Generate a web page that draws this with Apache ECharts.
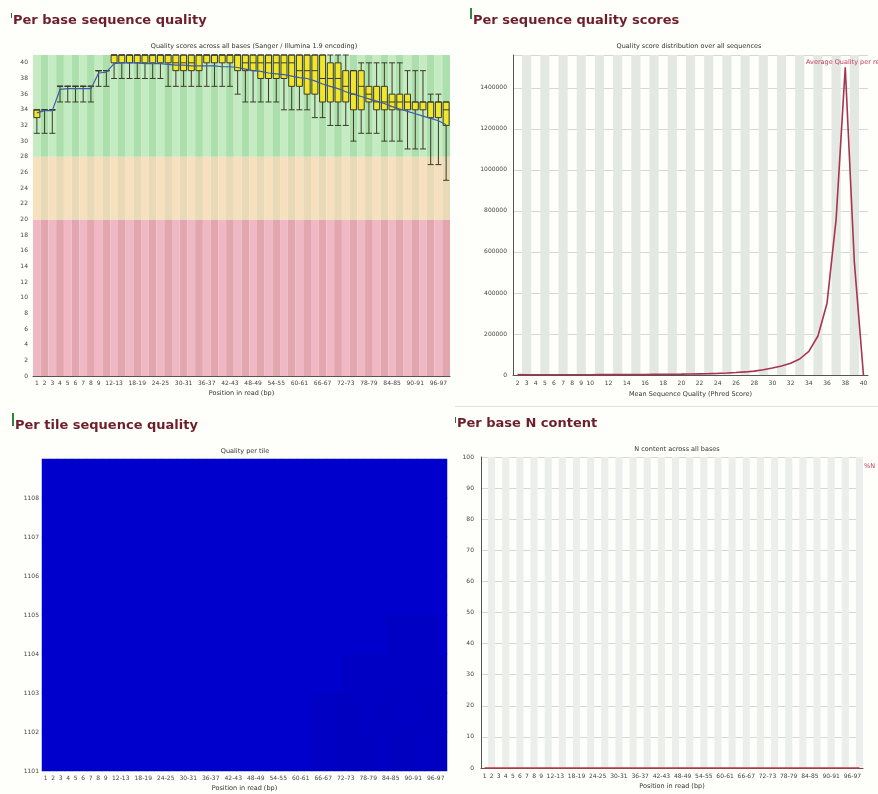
<!DOCTYPE html>
<html><head><meta charset="utf-8">
<script src="https://cdn.jsdelivr.net/npm/echarts@6/dist/echarts.min.js"></script>
<style>html,body{margin:0;padding:0;background:#fefefa;}#c{width:878px;height:794px;}</style>
</head><body><div id="c"></div>
<script>
// ---------- shared position categories ----------
const positions = ['1','2','3','4','5','6','7','8','9','10-11','12-13','14-15','16-17','18-19','20-21','22-23','24-25','26-27','28-29','30-31','32-33','34-35','36-37','38-39','40-41','42-43','44-45','46-47','48-49','50-51','52-53','54-55','56-57','58-59','60-61','62-63','64-65','66-67','68-69','70-71','72-73','74-75','76-77','78-79','80-81','82-83','84-85','86-87','88-89','90-91','92-93','94-95','96-97','98-99'];

// ---------- Per base sequence quality ----------
const lowWhisker    = [31,31,31,35,35,35,35,35,37,37,38,38,38,38,38,38,38,37,37,37,37,37,37,37,37,37,36,35,35,35,35,35,34,34,34,34,33,33,32,32,32,30,31,31,31,30,30,30,29,29,29,27,27,25];
const lowerQuartile = [33,34,34,37,37,37,37,37,39,39,40,40,40,40,40,40,40,40,39,39,39,39,40,40,40,40,39,39,39,38,38,38,38,37,37,36,36,35,35,35,35,34,34,35,34,34,34,34,34,34,34,33,33,32];
const medianQuality = [34,34,34,37,37,37,37,37,39,39,41,41,41,41,41,41,41,41,40,40,40,41,41,41,41,41,41,40,40,40,40,40,40,40,39,39,39,38,38,38,37,36,37,36,35,35,35,35,35,35,35,35,35,34];
const upperQuartile = [34,34,34,37,37,37,37,37,39,39,41,41,41,41,41,41,41,41,41,41,41,41,41,41,41,41,41,41,41,41,41,41,41,41,41,41,41,41,40,40,39,39,39,37,37,37,36,36,36,35,35,35,35,35];
const highWhisker   = [34,34,34,37,37,37,37,37,39,39,41,41,41,41,41,41,41,41,41,41,41,41,41,41,41,41,41,41,41,41,41,41,41,41,41,41,41,41,41,41,41,39,40,40,40,40,40,40,39,39,39,36,36,35];
const meanQuality   = [33.6,33.9,33.9,36.6,36.7,36.7,36.7,36.7,38.7,38.8,39.9,40.0,40.0,40.0,39.9,39.9,39.9,39.8,39.7,39.7,39.6,39.6,39.6,39.6,39.5,39.5,39.4,39.2,39.0,38.9,38.7,38.6,38.5,38.3,38.1,38.0,37.7,37.3,37.0,36.7,36.3,36.0,35.7,35.4,35.1,34.8,34.4,34.1,33.8,33.5,33.2,32.9,32.6,32.1];
const qualityZones = [
  {from:0,  to:20, colors:['#f0b8c4','#e2a7ae']},
  {from:20, to:28, colors:['#f6e0bd','#e8dab7']},
  {from:28, to:41, colors:['#c4ebc2','#addfad']}
];

// ---------- Per sequence quality scores ----------
const phredScores = ['2','3','4','5','6','7','8','9','10','11','12','13','14','15','16','17','18','19','20','21','22','23','24','25','26','27','28','29','30','31','32','33','34','35','36','37','38','39','40'];
const readCounts = [2000,1500,1500,1500,1500,1500,1500,1500,1500,1700,1800,2000,2200,2400,2700,3000,3300,3700,4200,4800,5600,6500,7800,9500,12000,15000,19000,26000,34000,44000,57000,78000,115000,190000,350000,760000,1500000,550000,0];

// ---------- Per tile sequence quality ----------
const tiles = ['1101','1102','1103','1104','1105','1106','1107','1108'];
const tileDeviation = [
  [0,0,0,0,0,0,0,0,0,0,0,0,0,0,0,0,0,0,0,0,0,0,0,0,0,0,0,0,0,0,0,0,0,0,0,0,0.2,0.2,0.2,0.3,0.3,0.3,0.3,0.3,0.2,0.2,0.3,0.3,0.3,0.3,0.2,0.2,0.3,0.3],
  [0,0,0,0,0,0,0,0,0,0,0,0,0,0,0,0,0,0,0,0,0,0,0,0,0,0,0,0,0,0,0,0,0,0,0,0,0.2,0.2,0.2,0.3,0.3,0.3,0.2,0.2,0.2,0.3,0.3,0.2,0.2,0.2,0.2,0.3,0.3,0.2],
  [0,0,0,0,0,0,0,0,0,0,0,0,0,0,0,0,0,0,0,0,0,0,0,0,0,0,0,0,0,0,0,0,0,0,0,0,0,0,0,0,0.2,0.2,0.2,0.2,0.2,0.2,0.2,0.2,0.2,0.2,0.2,0.2,0.2,0.2],
  [0,0,0,0,0,0,0,0,0,0,0,0,0,0,0,0,0,0,0,0,0,0,0,0,0,0,0,0,0,0,0,0,0,0,0,0,0,0,0,0,0,0,0,0,0,0,0.2,0.2,0.2,0.2,0.2,0.2,0.2,0],
  [0,0,0,0,0,0,0,0,0,0,0,0,0,0,0,0,0,0,0,0,0,0,0,0,0,0,0,0,0,0,0,0,0,0,0,0,0,0,0,0,0,0,0,0,0,0,0,0,0,0,0,0,0,0],
  [0,0,0,0,0,0,0,0,0,0,0,0,0,0,0,0,0,0,0,0,0,0,0,0,0,0,0,0,0,0,0,0,0,0,0,0,0,0,0,0,0,0,0,0,0,0,0,0,0,0,0,0,0,0],
  [0,0,0,0,0,0,0,0,0,0,0,0,0,0,0,0,0,0,0,0,0,0,0,0,0,0,0,0,0,0,0,0,0,0,0,0,0,0,0,0,0,0,0,0,0,0,0,0,0,0,0,0,0,0],
  [0,0,0,0,0,0,0,0,0,0,0,0,0,0,0,0,0,0,0,0,0,0,0,0,0,0,0,0,0,0,0,0,0,0,0,0,0,0,0,0,0,0,0,0,0,0,0,0,0,0,0,0,0,0]
];

// ---------- Per base N content ----------
const nContent = [0,0,0,0,0,0,0,0,0,0,0,0,0,0,0,0,0,0,0,0,0,0,0,0,0,0,0,0,0,0,0,0,0,0,0,0,0,0,0,0,0,0,0,0,0,0,0,0,0,0,0,0,0,0];

// ---------- build ----------
const FONT = 'DejaVu Sans';
const posLabelShown = (i) => i < 9 || (i >= 10 && (i - 10) % 3 === 0);
const small = {fontSize: 6, color: '#444', fontFamily: FONT};
const nameStyle = {fontSize: 6.5, color: '#333', fontFamily: FONT};
const plain = (v) => String(v);

const boxData = positions.map((p, i) => [lowWhisker[i], lowerQuartile[i], medianQuality[i], upperQuartile[i], highWhisker[i]]);
const heatData = [];
tileDeviation.forEach((row, t) => row.forEach((v, i) => heatData.push([i, t, v])));

const zoneSeries = qualityZones.map((z) => ({
  type: 'bar', xAxisIndex: 0, yAxisIndex: 0, stack: 'zones', silent: true, z: 1,
  barCategoryGap: '0%',
  data: positions.map(() => z.to - z.from),
  itemStyle: {color: (p) => z.colors[p.dataIndex % 2]}
}));

function title(text, x, y) {
  return {type: 'text', x, y, style: {text, font: 'bold 13px "DejaVu Sans"', fill: '#6e1e2a', verticalAlign: 'top'}};
}
function subtitle(text, x, y) {
  return {type: 'text', x, y, style: {text, font: '6.5px "DejaVu Sans"', fill: '#333', align: 'center', verticalAlign: 'middle'}};
}

const option = {
  animation: false,
  backgroundColor: '#fefefa',
  textStyle: {fontFamily: FONT},
  grid: [
    {left: 33, top: 55, width: 417, height: 321},
    {left: 513, top: 55, width: 355, height: 320},
    {left: 42, top: 459, width: 405, height: 312, show: true, backgroundColor: '#0000cc', borderWidth: 0},
    {left: 481, top: 457, width: 382, height: 311}
  ],
  xAxis: [
    {type: 'category', gridIndex: 0, data: positions, axisTick: {show: false},
     axisLine: {lineStyle: {color: '#555'}},
     axisLabel: Object.assign({interval: (i) => posLabelShown(i), margin: 4}, small),
     name: 'Position in read (bp)', nameLocation: 'middle', nameGap: 14, nameTextStyle: nameStyle},
    {type: 'category', gridIndex: 1, data: phredScores, axisTick: {show: false},
     axisLine: {lineStyle: {color: '#555'}},
     splitArea: {show: true, interval: 0, areaStyle: {color: ['rgba(0,0,0,0)', '#e3e8e3']}},
     axisLabel: Object.assign({interval: (i, v) => (+v <= 10 || (+v) % 2 === 0), margin: 5}, small),
     name: 'Mean Sequence Quality (Phred Score)', nameLocation: 'middle', nameGap: 16, nameTextStyle: nameStyle},
    {type: 'category', gridIndex: 2, data: positions, axisTick: {show: false},
     axisLine: {show: false},
     axisLabel: Object.assign({interval: (i) => posLabelShown(i), margin: 4}, small),
     name: 'Position in read (bp)', nameLocation: 'middle', nameGap: 14, nameTextStyle: nameStyle},
    {type: 'category', gridIndex: 3, data: positions, axisTick: {show: false},
     axisLine: {lineStyle: {color: '#555'}},
     splitArea: {show: true, interval: 0, areaStyle: {color: ['rgba(0,0,0,0)', '#eceeec']}},
     axisLabel: Object.assign({interval: (i) => posLabelShown(i), margin: 5}, small),
     name: 'Position in read (bp)', nameLocation: 'middle', nameGap: 15, nameTextStyle: nameStyle}
  ],
  yAxis: [
    {type: 'value', gridIndex: 0, min: 0, max: 41, interval: 2, splitLine: {show: false},
     axisLine: {show: false}, axisTick: {show: false},
     axisLabel: Object.assign({showMaxLabel: false, margin: 5, formatter: plain}, small)},
    {type: 'value', gridIndex: 1, min: 0, max: 1560000, interval: 200000,
     splitLine: {lineStyle: {color: '#d6d6d6'}},
     axisLine: {show: true, lineStyle: {color: '#555'}}, axisTick: {show: false},
     axisLabel: Object.assign({showMaxLabel: false, margin: 6, formatter: plain}, small)},
    {type: 'category', gridIndex: 2, data: tiles, position: 'left', axisLabel: {show: false},
     axisLine: {show: false}, axisTick: {show: false}},
    {type: 'value', gridIndex: 2, position: 'left', min: 1101, max: 1109, interval: 1, splitLine: {show: false},
     axisLine: {show: false}, axisTick: {show: false},
     axisLabel: Object.assign({showMaxLabel: false, margin: 3, formatter: plain}, small)},
    {type: 'value', gridIndex: 3, min: 0, max: 100, interval: 10,
     splitLine: {lineStyle: {color: '#d6d6d6'}},
     axisLine: {show: true, lineStyle: {color: '#555'}}, axisTick: {show: false},
     axisLabel: Object.assign({margin: 7, formatter: plain}, small)}
  ],
  visualMap: [{show: false, seriesIndex: 6, min: 0, max: 1, inRange: {color: ['#0000cc', '#0000a8']}}],
  legend: [
    {data: ['Average Quality per read'], left: 801, top: 59, icon: 'none', itemWidth: 0, itemHeight: 0, padding: 0,
     textStyle: {color: '#c23a5a', fontSize: 6.5, fontFamily: FONT}},
    {data: ['%N'], left: 859, top: 463, icon: 'none', itemWidth: 0, itemHeight: 0, padding: 0,
     textStyle: {color: '#c23a5a', fontSize: 6.5, fontFamily: FONT}}
  ],
  series: [
    ...zoneSeries,
    {type: 'boxplot', xAxisIndex: 0, yAxisIndex: 0, z: 3, data: boxData, boxWidth: [6, 6],
     itemStyle: {color: '#f0e62c', borderColor: '#3b3b2a', borderWidth: 1}},
    {type: 'line', xAxisIndex: 0, yAxisIndex: 0, z: 4, data: meanQuality, symbol: 'none',
     lineStyle: {color: '#3a5ea6', width: 1.2}},
    {type: 'line', name: 'Average Quality per read', xAxisIndex: 1, yAxisIndex: 1, data: readCounts, symbol: 'none',
     color: '#a8344f', lineStyle: {color: '#a8344f', width: 1.6}},
    {type: 'heatmap', xAxisIndex: 2, yAxisIndex: 2, data: heatData, itemStyle: {borderWidth: 0}, emphasis: {disabled: true}},
    {type: 'line', name: '%N', xAxisIndex: 3, yAxisIndex: 4, data: nContent, symbol: 'none',
     color: '#cc3344', lineStyle: {color: '#cc3344', width: 1.5}}
  ],
  graphic: [
    {type: 'rect', shape: {x: 11, y: 13, width: 1, height: 5}, style: {fill: '#555'}},
    {type: 'rect', shape: {x: 470, y: 8, width: 2, height: 11}, style: {fill: '#2a8a3a'}},
    {type: 'rect', shape: {x: 12, y: 413, width: 2, height: 13}, style: {fill: '#2a8a3a'}},
    {type: 'rect', shape: {x: 455, y: 417, width: 1, height: 6}, style: {fill: '#555'}},
    {type: 'rect', shape: {x: 455, y: 406, width: 423, height: 1}, style: {fill: '#e2e2e2'}},
    title('Per base sequence quality', 13, 14),
    title('Per sequence quality scores', 473, 14),
    title('Per tile sequence quality', 15, 419),
    title('Per base N content', 457, 417),
    subtitle('Quality scores across all bases (Sanger / Illumina 1.9 encoding)', 254, 46),
    subtitle('Quality score distribution over all sequences', 689, 46),
    subtitle('Quality per tile', 245, 451),
    subtitle('N content across all bases', 677, 449)
  ]
};
// heatmap series index: zones(3) + boxplot + mean + line = 6
const chart = echarts.init(document.getElementById('c'));
chart.setOption(option);
</script></body></html>
